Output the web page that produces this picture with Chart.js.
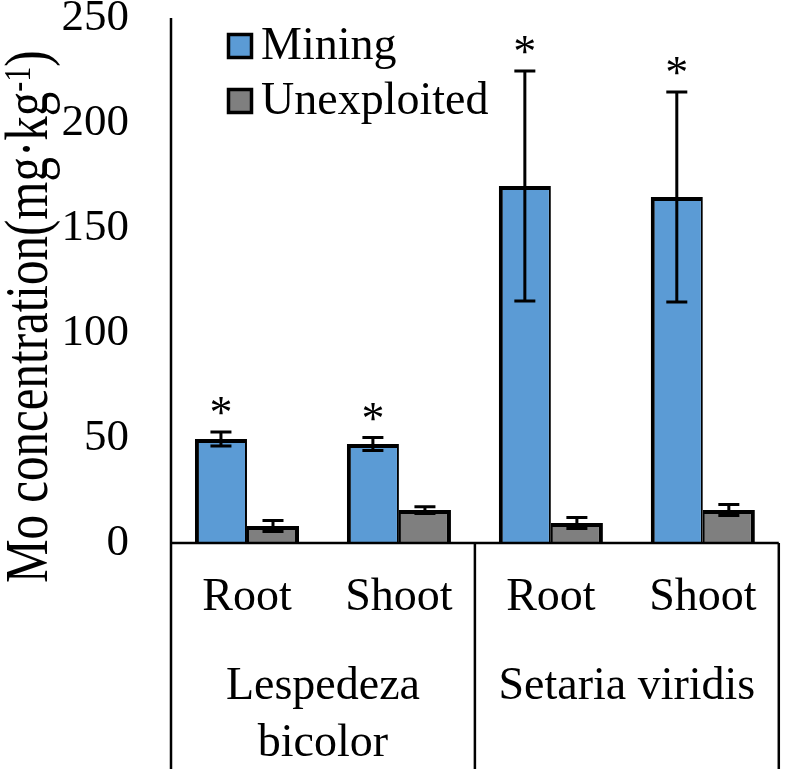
<!DOCTYPE html>
<html>
<head>
<meta charset="utf-8">
<script src="https://cdn.jsdelivr.net/npm/chart.js@4.4.0/dist/chart.umd.min.js"></script>
<style>
  html, body { margin: 0; padding: 0; background: #fff; }
  #wrap { width: 789px; height: 769px; }
</style>
</head>
<body>
<div id="wrap"><canvas id="moChart" width="789" height="769"></canvas></div>
<script>
// data
const parts = ['Root', 'Shoot', 'Root', 'Shoot'];
const species = [['Lespedeza', 'bicolor'], ['Setaria viridis']];
const seriesNames = ['Mining', 'Unexploited'];
const miningValues = [49.5, 47.1, 170, 164.8];
const miningErrors = [3.3, 3.1, 54.8, 50];
const unexploitedValues = [8.1, 15.7, 9.5, 15.7];
const unexploitedErrors = [2.6, 1.6, 2.6, 2.6];
const miningStars = [true, true, true, true];
const yTicks = [0, 50, 100, 150, 200, 250];
const yTitleMain = 'Mo concentration(mg\u00B7kg';
const yTitleSup = '-1';

const serif = '"Liberation Serif", "Times New Roman", serif';
const blue = '#5B9BD5';
const grey = '#7F7F7F';

const decorations = {
  id: 'decorations',
  afterDatasetsDraw(chart) {
    const ctx = chart.ctx;
    const y = chart.scales.y;
    ctx.save();
    ctx.strokeStyle = '#000';
    ctx.fillStyle = '#000';
    ctx.lineWidth = 3;
    chart.data.datasets.forEach((ds, di) => {
      const meta = chart.getDatasetMeta(di);
      meta.data.forEach((bar, i) => {
        const v = ds.data[i], e = ds.errors[i];
        const top = y.getPixelForValue(v + e);
        const bot = y.getPixelForValue(v - e);
        ctx.beginPath();
        ctx.moveTo(bar.x, top); ctx.lineTo(bar.x, bot);
        ctx.moveTo(bar.x - 10.5, top); ctx.lineTo(bar.x + 10.5, top);
        ctx.moveTo(bar.x - 10.5, bot); ctx.lineTo(bar.x + 10.5, bot);
        ctx.stroke();
        if (ds.stars && ds.stars[i]) {
          ctx.font = '46px ' + serif;
          ctx.textAlign = 'center';
          ctx.textBaseline = 'alphabetic';
          ctx.fillText('*', bar.x, top - 4);
        }
      });
    });
    ctx.restore();
  },
  afterDraw(chart) {
    const ctx = chart.ctx;
    const area = chart.chartArea;
    const x = chart.scales.x;
    const H = chart.height;
    ctx.save();

    // axis frame and group dividers
    ctx.strokeStyle = '#000';
    ctx.lineWidth = 2.5;
    const mid = (x.getPixelForValue(1) + x.getPixelForValue(2)) / 2;
    ctx.beginPath();
    ctx.moveTo(area.left, area.top); ctx.lineTo(area.left, H);
    ctx.moveTo(area.left, area.bottom); ctx.lineTo(area.right, area.bottom);
    ctx.moveTo(mid, area.bottom); ctx.lineTo(mid, H);
    ctx.moveTo(area.right, area.bottom); ctx.lineTo(area.right, H);
    ctx.stroke();

    // species labels under the parts
    ctx.fillStyle = '#000';
    ctx.font = '46px ' + serif;
    ctx.textAlign = 'center';
    ctx.textBaseline = 'alphabetic';
    species.forEach((lines, g) => {
      const cx = (x.getPixelForValue(2 * g) + x.getPixelForValue(2 * g + 1)) / 2;
      lines.forEach((t, k) => {
        ctx.fillText(t, cx, area.bottom + 156 + k * 57);
      });
    });

    // legend
    const colors = [blue, grey];
    seriesNames.forEach((name, k) => {
      const by = 34.5 + k * 55;
      ctx.fillStyle = colors[k];
      ctx.fillRect(228.5, by, 23, 23);
      ctx.lineWidth = 3.5;
      ctx.strokeRect(228.5, by, 23, 23);
      ctx.fillStyle = '#000';
      ctx.textAlign = 'left';
      ctx.textBaseline = 'middle';
      ctx.font = '46px ' + serif;
      ctx.fillText(name, 261, by + 12);
    });

    // y axis title with superscript
    ctx.translate(47, 583);
    ctx.rotate(-Math.PI / 2);
    ctx.scale(1, 1.25);
    ctx.textAlign = 'left';
    ctx.textBaseline = 'alphabetic';
    ctx.font = '49px ' + serif;
    let cx = 0;
    ctx.fillText(yTitleMain, cx, 0);
    cx += ctx.measureText(yTitleMain).width;
    ctx.font = '30px ' + serif;
    ctx.fillText(yTitleSup, cx, -14);
    cx += ctx.measureText(yTitleSup).width;
    ctx.font = '49px ' + serif;
    ctx.fillText(')', cx, 0);
    ctx.restore();
  }
};

new Chart(document.getElementById('moChart'), {
  type: 'bar',
  data: {
    labels: parts,
    datasets: [
      {
        label: seriesNames[0],
        data: miningValues,
        errors: miningErrors,
        stars: miningStars,
        backgroundColor: blue,
        borderColor: '#000',
        borderWidth: { top: 4, left: 4, right: 2, bottom: 0 },
        borderSkipped: 'start'
      },
      {
        label: seriesNames[1],
        data: unexploitedValues,
        errors: unexploitedErrors,
        backgroundColor: grey,
        borderColor: '#000',
        borderWidth: { top: 4, left: 2, right: 4, bottom: 0 },
        borderSkipped: 'start'
      }
    ]
  },
  options: {
    responsive: false,
    animation: false,
    devicePixelRatio: 1,
    layout: { padding: { top: 18, right: 4, left: 0, bottom: 0 } },
    datasets: { bar: { categoryPercentage: 0.685, barPercentage: 1 } },
    plugins: { legend: { display: false }, tooltip: { enabled: false } },
    scales: {
      x: {
        grid: { display: false, drawTicks: false },
        border: { display: false },
        ticks: {
          color: '#000',
          padding: 32,
          maxRotation: 0,
          autoSkip: false,
          font: { family: serif, size: 46, lineHeight: 1 }
        },
        afterFit(s) { s.height = 226; }
      },
      y: {
        min: 0,
        max: 250,
        grid: { display: false, drawTicks: true, tickLength: 40 },
        border: { display: false },
        afterBuildTicks(s) { s.ticks = yTicks.map(v => ({ value: v })); },
        ticks: {
          color: '#000',
          padding: 2,
          font: { family: serif, size: 45, lineHeight: 0.7 }
        },
        afterFit(s) { s.width = 171; }
      }
    }
  },
  plugins: [decorations]
});
</script>
</body>
</html>
